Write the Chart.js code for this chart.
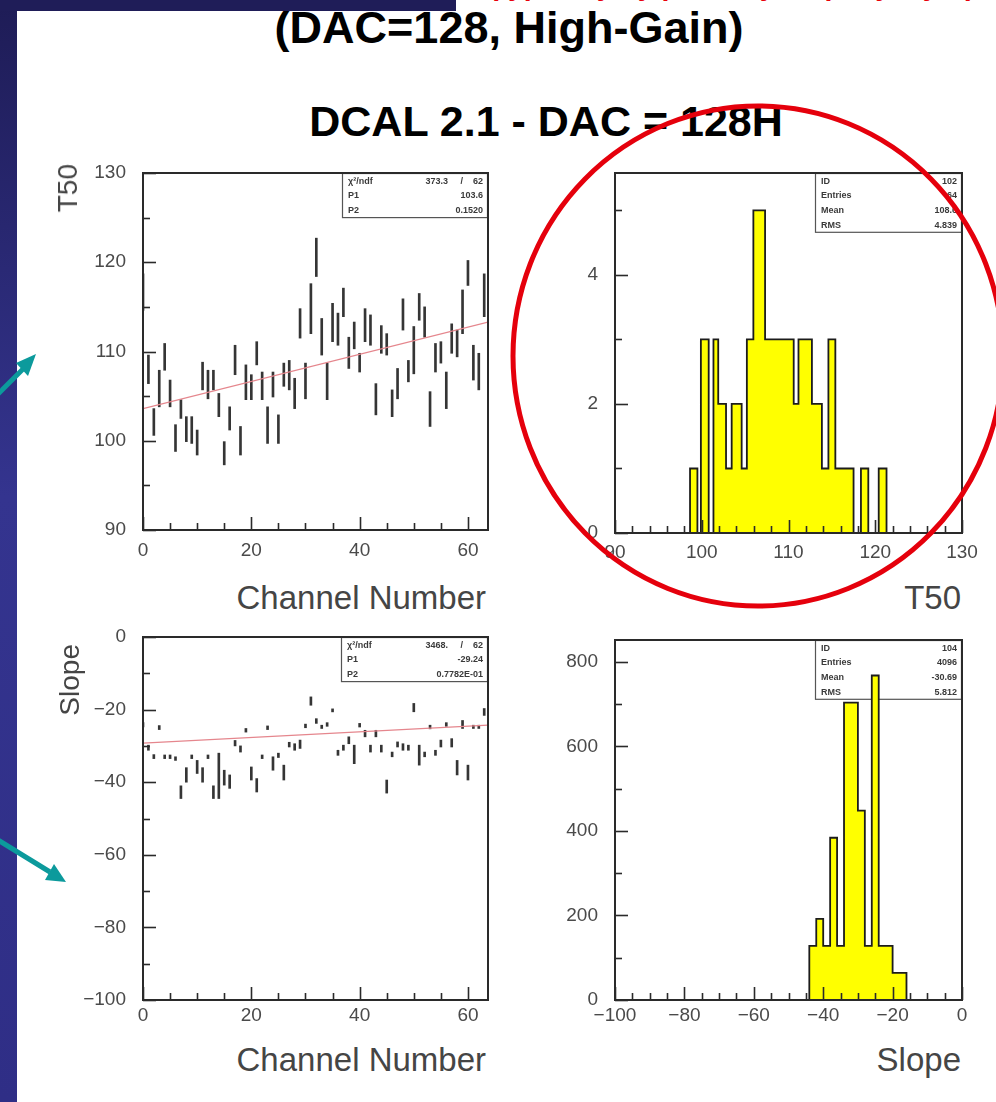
<!DOCTYPE html>
<html>
<head>
<meta charset="utf-8">
<title>DCAL 2.1 - DAC = 128H</title>
<script src="https://cdn.jsdelivr.net/npm/chart.js@4.4.1/dist/chart.umd.min.js"></script>
<style>
  html, body { margin: 0; padding: 0; }
  body {
    width: 996px; height: 1102px; position: relative; overflow: hidden;
    background: #fff; font-family: "Liberation Sans", Arial, sans-serif;
  }
  .side { position: absolute; left: 0; top: 0; width: 17px; height: 1102px;
    background: linear-gradient(#1e1c56, #34348f 45%, #2f2e86); }
  .topbar { position: absolute; left: 0; top: 0; width: 456px; height: 11px; background: #1f1d58; }
  .cut { position: absolute; left: 489px; top: -33px; font: bold 32px/32px "Liberation Sans", Arial;
    color: #e8000b; white-space: nowrap; transform-origin: 0 0; }
  .title { position: absolute; left: 0; width: 996px; text-align: center; font-weight: bold; color: #000; white-space: nowrap; }
  .t1 { top: 5px; font-size: 45px; line-height: 45px; margin-left: 11px; }
  .t2 { top: 100px; font-size: 43px; line-height: 43px; margin-left: 48px; }
  canvas { position: absolute; }
  .xt { position: absolute; font-size: 33px; line-height: 33px; color: #454545; white-space: nowrap; text-align: right; }
  .yt { position: absolute; font-size: 28px; line-height: 28px; color: #454545; white-space: nowrap;
    transform-origin: 0 0; transform: rotate(-90deg) translate(-100%, -50%); }
  svg { position: absolute; left: 0; top: 0; }
</style>
</head>
<body>
<div class="side"></div>
<div class="topbar"></div>
<div class="cut">(typically by pixel, by chip, by layer)</div>
<div class="title t1">(DAC=128, High-Gain)</div>
<div class="title t2">DCAL 2.1 - DAC = 128H</div>

<canvas id="t50Chan" width="427" height="407" style="left:73px;top:163px"></canvas>
<canvas id="t50Hist" width="447" height="410" style="left:545px;top:163px"></canvas>
<canvas id="slopeChan" width="427" height="413" style="left:73px;top:627px"></canvas>
<canvas id="slopeHist" width="447" height="410" style="left:545px;top:630px"></canvas>

<div class="yt" style="left:68px;top:164px">T50</div>
<div class="xt" style="right:510px;top:581px">Channel Number</div>
<div class="xt" style="right:35px;top:581px">T50</div>
<div class="yt" style="left:70px;top:644px">Slope</div>
<div class="xt" style="right:510px;top:1043px">Channel Number</div>
<div class="xt" style="right:35px;top:1043px">Slope</div>

<svg width="996" height="1102">
  <ellipse cx="758" cy="356" rx="245" ry="250" fill="none" stroke="#e5000c" stroke-width="5"/>
  <g fill="#0c9a9c" stroke="#0c9a9c">
    <line x1="-2" y1="394" x2="26" y2="366" stroke-width="5"/>
    <polygon points="36,354 16,363 28,376" stroke="none"/>
    <line x1="-2" y1="840" x2="50" y2="872" stroke-width="5"/>
    <polygon points="66,882 45,880 54,864" stroke="none"/>
  </g>
</svg>

<script>
// channel numbers
const channels = [0, 1, 2, 3, 4, 5, 6, 7, 8, 9, 10, 11, 12, 13, 14, 15, 16, 17, 18, 19,
  20, 21, 22, 23, 24, 25, 26, 27, 28, 29, 30, 31, 32, 33, 34, 35, 36, 37, 38, 39,
  40, 41, 42, 43, 44, 45, 46, 47, 48, 49, 50, 51, 52, 53, 54, 55, 56, 57, 58, 59,
  60, 61, 62, 63];

// T50 per channel, error bar low / high ends
const t50Low = [114.6, 106.4, 100.6, 103.8, 107.9, 103.8, 98.8, 102.5, 99.9, 99.7,
  98.4, 105.7, 104.7, 105.7, 102.7, 97.3, 101.2, 107.4, 98.4, 104.6,
  104.6, 108.5, 104.6, 99.7, 104.9, 99.7, 106.1, 105.7, 103.6, 111.5,
  104.7, 112.0, 118.4, 109.6, 104.6, 111.1, 110.7, 113.9, 108.1, 110.3,
  107.7, 111.1, 110.7, 102.9, 109.8, 109.6, 102.7, 104.7, 112.4, 106.6,
  107.5, 113.5, 111.6, 101.6, 107.7, 108.7, 103.6, 109.8, 109.4, 112.0,
  117.4, 106.8, 105.7, 113.9];
const t50High = [118.7, 109.6, 103.6, 107.9, 110.9, 106.8, 101.8, 104.6, 102.7, 102.7,
  101.2, 108.8, 107.9, 107.9, 105.3, 99.9, 103.8, 110.7, 101.6, 108.5,
  107.4, 111.1, 107.7, 103.8, 107.7, 102.9, 108.7, 109.0, 107.0, 114.8,
  108.7, 117.6, 122.7, 113.7, 108.7, 115.4, 114.3, 117.1, 111.6, 113.3,
  109.8, 114.8, 114.1, 106.4, 112.9, 112.0, 105.7, 108.1, 115.9, 109.0,
  112.8, 116.5, 115.0, 105.5, 110.9, 111.1, 107.7, 113.1, 112.4, 116.9,
  120.2, 110.7, 109.8, 118.7];
// straight-line fit, ends at channel 0 and at the right frame edge
const fitX = [0, 63.7];
const t50Fit = [103.6, 113.3];

// Slope per channel, error bar low / high ends
const slopeLow = [-24.8, -31.2, -33.5, -25.5, -33.5, -33.5, -34.0, -44.5, -40.0, -33.5,
  -37.6, -40.0, -33.5, -44.5, -44.5, -40.8, -41.7, -30.0, -31.7, -26.2,
  -39.4, -42.7, -33.5, -25.5, -36.7, -33.2, -39.4, -30.3, -31.2, -30.7,
  -25.0, -18.8, -23.8, -25.2, -24.6, -20.6, -32.6, -31.2, -29.4, -34.9,
  -24.8, -27.5, -31.7, -27.5, -31.7, -43.0, -33.0, -30.3, -31.2, -31.2,
  -20.6, -35.3, -33.0, -25.3, -32.6, -30.3, -24.6, -30.3, -38.0, -25.2,
  -39.4, -25.2, -25.2, -21.6];
const slopeHigh = [-23.6, -29.8, -32.4, -24.4, -32.5, -32.5, -33.0, -41.0, -36.0, -32.5,
  -34.0, -36.0, -32.5, -41.0, -32.0, -36.7, -38.0, -28.5, -30.0, -25.2,
  -35.8, -39.0, -32.5, -24.5, -33.0, -32.0, -35.3, -29.0, -29.4, -28.4,
  -24.0, -16.5, -22.5, -24.3, -23.6, -19.8, -31.2, -29.8, -27.5, -29.8,
  -23.8, -25.7, -29.8, -25.7, -29.8, -39.4, -31.7, -28.9, -29.4, -29.8,
  -18.3, -29.8, -31.7, -24.3, -31.2, -28.4, -23.6, -28.0, -34.0, -23.0,
  -35.3, -24.3, -24.3, -19.7];
const slopeFit = [-29.24, -24.3];

// T50 histogram: bin edges and entries per bin
const t50Edges = [98.65, 99.5, 99.9, 100.8, 101.35, 101.9, 102.8, 103.45, 104.6, 105.2, 105.95,
  107.3, 110.6, 111.15, 112.7, 113.85, 114.6, 115.4, 117.5, 118.35, 119.2, 120.4, 121.3];
const t50Counts = [1, 0, 3, 0, 3, 2, 1, 2, 1, 3, 5, 3, 2, 3, 2, 1, 3, 1, 0, 1, 0, 1];

// Slope histogram
const slopeEdges = [-44, -42, -40, -38, -36, -34, -32, -30, -28, -26, -24, -22, -20, -18, -16];
const slopeCounts = [128, 192, 128, 384, 128, 704, 704, 448, 128, 768, 128, 128, 64, 64];

// tick labels
const channelTicks = [0, 20, 40, 60];
const t50Ticks = [90, 100, 110, 120, 130];
const t50CountTicks = [0, 2, 4];
const slopeTicks = [0, -20, -40, -60, -80, -100];
const slopeHistTicks = [-100, -80, -60, -40, -20, 0];
const slopeCountTicks = [0, 200, 400, 600, 800];

// stat boxes
const t50ChanStats = [['\u03C7\u00B2/ndf', '373.3     /    62'], ['P1', '103.6'], ['P2', '0.1520']];
const t50HistStats = [['ID', '102'], ['Entries', '64'], ['Mean', '108.6'], ['RMS', '4.839']];
const slopeChanStats = [['\u03C7\u00B2/ndf', '3468.     /    62'], ['P1', '-29.24'], ['P2', '0.7782E-01']];
const slopeHistStats = [['ID', '104'], ['Entries', '4096'], ['Mean', '-30.69'], ['RMS', '5.812']];

// squeeze the clipped red headline into its span
const cut = document.querySelector('.cut');
cut.style.transform = 'scaleX(' + (486 / cut.getBoundingClientRect().width) + ')';

Chart.defaults.animation = false;
Chart.defaults.font.family = '"Liberation Sans", Arial, sans-serif';

// PAW-style frame, inward ticks and statistics box
const rootFrame = {
    id: 'rootFrame',
    // stat box goes under the data, as in the original plots
    beforeDatasetsDraw(chart, args, opts) {
        const { ctx, chartArea: a } = chart;
        const rows = opts.stats;
        const rowH = 14.7;
        const w = opts.boxWidth;
        const x0 = a.right - w;
        const y0 = a.top;
        ctx.save();
        ctx.fillStyle = '#fff';
        ctx.fillRect(x0, y0, w, rows.length * rowH);
        ctx.lineWidth = 1.2;
        ctx.strokeStyle = '#555';
        ctx.strokeRect(x0 + 0.5, y0 + 0.5, w - 1, rows.length * rowH);
        ctx.fillStyle = '#3a3a3a';
        ctx.font = 'bold 9px "Liberation Sans", Arial, sans-serif';
        ctx.textBaseline = 'middle';
        rows.forEach((r, i) => {
            const yy = y0 + rowH * (i + 0.55);
            ctx.textAlign = 'left';
            ctx.fillText(r[0], x0 + 6, yy);
            ctx.textAlign = 'right';
            ctx.fillText(r[1], a.right - 5, yy);
        });
        ctx.restore();
    },
    afterDatasetsDraw(chart, args, opts) {
        const { ctx, chartArea: a, scales } = chart;
        ctx.save();
        ctx.strokeStyle = '#2a2a2a';
        ctx.lineWidth = 1.6;

        const drawTicks = (scale, step, major, horizontal) => {
            const start = Math.ceil(scale.min / step - 1e-9) * step;
            for (let v = start; v <= scale.max + 1e-9; v += step) {
                const isMajor = Math.abs(v / major - Math.round(v / major)) < 1e-6;
                const len = isMajor ? 13 : 7;
                const p = Math.round(scale.getPixelForValue(v)) + 0.5;
                ctx.beginPath();
                if (horizontal) {
                    ctx.moveTo(p, a.bottom);
                    ctx.lineTo(p, a.bottom - len);
                } else {
                    ctx.moveTo(a.left, p);
                    ctx.lineTo(a.left + len, p);
                }
                ctx.stroke();
            }
        };
        drawTicks(scales.x, opts.xMinor, opts.xMajor, true);
        drawTicks(scales.y, opts.yMinor, opts.yMajor, false);

        ctx.lineWidth = 2;
        ctx.strokeRect(a.left, a.top, a.right - a.left, a.bottom - a.top);
        ctx.restore();
    }
};
Chart.register(rootFrame);

function axis(min, max, tickValues, fitSize, padding) {
    return {
        type: 'linear',
        min: min,
        max: max,
        offset: false,
        grid: { display: false, drawTicks: false },
        border: { display: false },
        afterBuildTicks: s => { s.ticks = tickValues.map(v => ({ value: v })); },
        afterFit: s => {
            if (s.isHorizontal()) s.height = fitSize;
            else s.width = fitSize;
            // keep the frame where it is: no room reserved for overhanging labels
            s.paddingTop = s.paddingBottom = s.paddingLeft = s.paddingRight = 0;
        },
        ticks: {
            color: '#4a4a4a',
            font: { size: 19 },
            padding: padding,
            maxRotation: 0,
            autoSkip: false,
            callback: v => String(v).replace('-', '\u2212')
        }
    };
}

const basePlugins = { legend: { display: false }, tooltip: { enabled: false } };

function errorBarChart(id, low, high, fit, xTicks, yMin, yMax, yTicks, frame, xPad) {
    return new Chart(document.getElementById(id), {
        type: 'bar',
        data: {
            datasets: [
                {
                    type: 'line',
                    data: fitX.map((x, i) => ({ x: x, y: fit[i] })),
                    borderColor: '#e5868d',
                    borderWidth: 1.3,
                    pointRadius: 0,
                    tension: 0
                },
                {
                    type: 'bar',
                    data: channels.map((c, i) => ({ x: c, y: [low[i], high[i]] })),
                    backgroundColor: '#353535',
                    barThickness: 2,
                    minBarLength: 3,
                    grouped: false
                }
            ]
        },
        options: {
            responsive: false,
            layout: { padding: { top: 10, right: 12, left: 0, bottom: 0 } },
            plugins: Object.assign({ rootFrame: frame }, basePlugins),
            scales: {
                x: axis(0, 63.7, xTicks, 40, xPad),
                y: axis(yMin, yMax, yTicks, 70, 17)
            }
        }
    });
}

function outline(edges, counts, lo, hi) {
    const pts = [{ x: lo, y: 0 }, { x: edges[0], y: 0 }];
    counts.forEach((c, i) => {
        pts.push({ x: edges[i], y: c }, { x: edges[i + 1], y: c });
    });
    pts.push({ x: edges[edges.length - 1], y: 0 }, { x: hi, y: 0 });
    return pts;
}

function histChart(id, edges, counts, xMin, xMax, xTicks, yMax, yTicks, frame, xPad) {
    return new Chart(document.getElementById(id), {
        type: 'line',
        data: {
            datasets: [{
                data: outline(edges, counts, xMin, xMax),
                borderColor: '#1c1c1c',
                borderWidth: 1.8,
                backgroundColor: '#ffff00',
                fill: 'origin',
                pointRadius: 0,
                tension: 0
            }]
        },
        options: {
            responsive: false,
            layout: { padding: { top: 10, right: 30, left: 0, bottom: 0 } },
            plugins: Object.assign({ rootFrame: frame }, basePlugins),
            scales: {
                x: axis(xMin, xMax, xTicks, 40, xPad),
                y: axis(0, yMax, yTicks, 70, 17)
            }
        }
    });
}

errorBarChart('t50Chan', t50Low, t50High, t50Fit, channelTicks, 90, 130, t50Ticks,
    { xMinor: 5, xMajor: 20, yMinor: 5, yMajor: 10, stats: t50ChanStats, boxWidth: 146 }, 9);
errorBarChart('slopeChan', slopeLow, slopeHigh, slopeFit, channelTicks, -100, 0, slopeTicks,
    { xMinor: 5, xMajor: 20, yMinor: 10, yMajor: 20, stats: slopeChanStats, boxWidth: 147 }, 4);
histChart('t50Hist', t50Edges, t50Counts, 90, 130, t50Ticks, 5.58, t50CountTicks,
    { xMinor: 2, xMajor: 10, yMinor: 1, yMajor: 2, stats: t50HistStats, boxWidth: 147 }, 8);
histChart('slopeHist', slopeEdges, slopeCounts, -100, 0, slopeHistTicks, 852, slopeCountTicks,
    { xMinor: 5, xMajor: 20, yMinor: 100, yMajor: 200, stats: slopeHistStats, boxWidth: 147 }, 4);
</script>
</body>
</html>
